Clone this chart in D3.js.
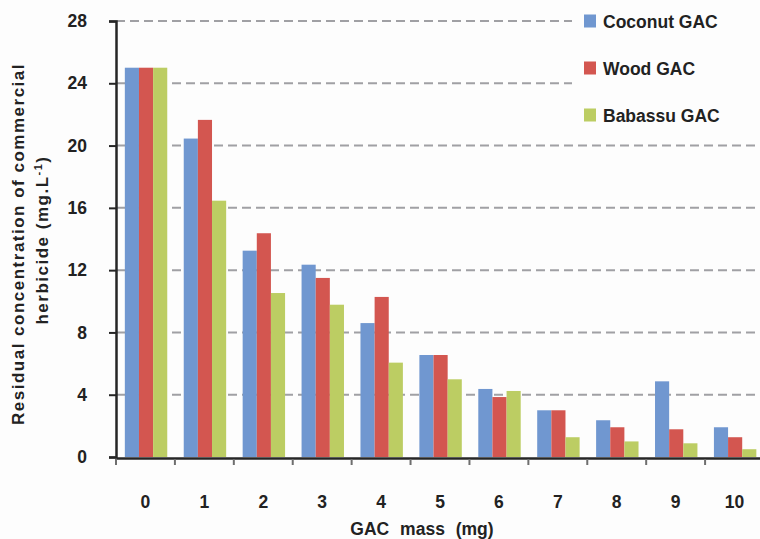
<!DOCTYPE html>
<html><head><meta charset="utf-8">
<script src="https://cdn.jsdelivr.net/npm/d3@7"></script>
<style>body{margin:0;background:#fdfdfd;} svg{display:block;font-family:Arial,"Liberation Sans",sans-serif;}</style>
</head><body>
<svg id="c" width="760" height="539"></svg>
<script>
const categories = ["0","1","2","3","4","5","6","7","8","9","10"];
const seriesNames = ["Coconut GAC","Wood GAC","Babassu GAC"];
const coconut = [25, 20.45, 13.25, 12.35, 8.6, 6.55, 4.37, 3.0, 2.36, 4.86, 1.91];
const wood    = [25, 21.65, 14.37, 11.5, 10.28, 6.55, 3.85, 3.0, 1.91, 1.78, 1.27];
const babassu = [25, 16.46, 10.53, 9.78, 6.06, 4.99, 4.24, 1.27, 1.0, 0.88, 0.5];
const yTicks = [0,4,8,12,16,20,24,28];
const colors = ["#7097d0","#d35650","#bccd63"];

(function(){
const svg = d3.select("#c");
const mLeft = 116, mRight = 764, mTop = 21, mBottom = 457;
const x0 = d3.scaleBand().domain(categories).range([mLeft, mRight]).padding(0);
const bw = x0.bandwidth();
const x1 = d3.scaleBand().domain(seriesNames).range([bw*0.15, bw*0.87]).padding(0);
const y = d3.scaleLinear().domain([0,28]).range([mBottom, mTop]);

// gridlines
svg.append("g").selectAll("line").data(yTicks.filter(d=>d>0)).join("line")
  .attr("x1", mLeft).attr("x2", 760).attr("y1", d=>y(d)).attr("y2", d=>y(d))
  .attr("stroke","#a0a0a4").attr("stroke-width",2).attr("stroke-dasharray","9,5");

// legend background
svg.append("rect").attr("x",572).attr("y",0).attr("width",186).attr("height",132).attr("fill","#fdfdfd");

// bars
const data = [coconut, wood, babassu];
const g = svg.append("g");
categories.forEach((c,i)=>{
  seriesNames.forEach((s,j)=>{
    g.append("rect")
      .attr("x", x0(c)+x1(s)).attr("width", x1.bandwidth())
      .attr("y", y(data[j][i])).attr("height", y(0)-y(data[j][i]))
      .attr("fill", colors[j]);
  });
});

// y axis
const ya = svg.append("g").attr("transform",`translate(${mLeft},0)`)
  .call(d3.axisLeft(y).tickValues(yTicks).tickSize(7).tickPadding(22));
ya.select(".domain").attr("stroke","#262626").attr("stroke-width",2.5);
ya.selectAll(".tick line").attr("stroke","#262626").attr("stroke-width",2);
ya.selectAll(".tick text").attr("font-size","17.5px").attr("font-weight","bold").attr("fill","#222")
  .attr("font-family","Arial, 'Liberation Sans', sans-serif");

// x axis
const xa = svg.append("g").attr("transform",`translate(0,${mBottom+1})`)
  .call(d3.axisBottom(x0).tickSize(0).tickPadding(38));
xa.select(".domain").attr("stroke","#262626").attr("stroke-width",2.5);
xa.selectAll(".tick text").attr("font-size","17.5px").attr("font-weight","bold").attr("fill","#222")
  .attr("font-family","Arial, 'Liberation Sans', sans-serif");
// boundary ticks
const bounds = categories.map(c=>x0(c)).concat([mRight]);
svg.append("g").selectAll("line").data(bounds).join("line")
  .attr("x1",d=>d).attr("x2",d=>d).attr("y1",mBottom+2).attr("y2",mBottom+8)
  .attr("stroke","#6e6e6e").attr("stroke-width",2);

// axis titles
svg.append("text").attr("x",422).attr("y",535).attr("text-anchor","middle")
  .attr("font-size","17.5px").attr("font-weight","bold").attr("fill","#222")
  .attr("word-spacing","6px").text("GAC mass (mg)");

const yt = svg.append("text").attr("transform","translate(24,244) rotate(-90)")
  .attr("text-anchor","middle").attr("font-size","17px").attr("font-weight","bold").attr("fill","#222")
  .attr("letter-spacing","1.5px");
yt.append("tspan").attr("x",0).attr("y",0).text("Residual concentration of commercial");
const t2 = svg.append("text").attr("transform","translate(48,240) rotate(-90)")
  .attr("text-anchor","middle").attr("font-size","17px").attr("font-weight","bold").attr("fill","#222")
  .attr("letter-spacing","1.5px");
t2.append("tspan").text("herbicide (mg.L");
t2.append("tspan").attr("font-size","11px").attr("dy","-6").text("-1");
t2.append("tspan").attr("dy","6").text(")");

// legend
seriesNames.forEach((s,j)=>{
  const cy = 21 + j*47;
  svg.append("rect").attr("x",584).attr("y",cy-6.5).attr("width",12).attr("height",13).attr("fill",colors[j]);
  svg.append("text").attr("x",603).attr("y",cy+6.5).attr("font-size","17.5px").attr("font-weight","bold")
    .attr("fill","#222").text(s);
});
})();
</script>
</body></html>
